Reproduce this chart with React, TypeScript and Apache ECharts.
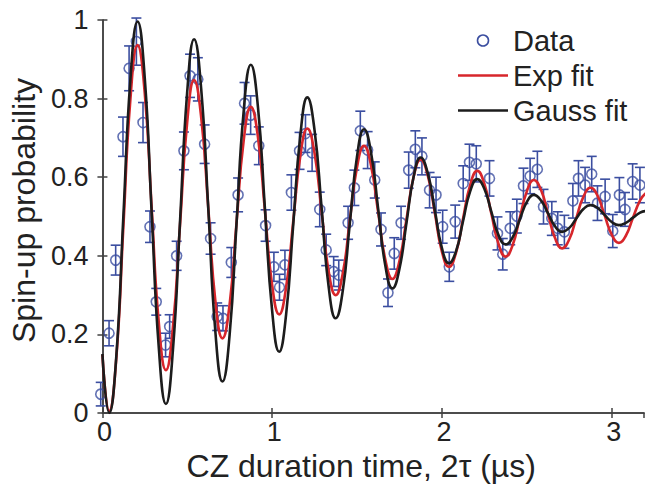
import React, { useEffect, useRef } from "react";
import * as echarts from "echarts";

// Measured data (time in µs, spin-up probability, error bar half-length)
const dataT = [
  -0.01, 0.039, 0.078, 0.121, 0.157, 0.2, 0.239, 0.28, 0.317, 0.372, 0.396, 0.437, 0.48, 0.516, 0.562, 0.602,
  0.637, 0.676, 0.71, 0.759, 0.799, 0.837, 0.873, 0.921, 0.961, 1.01, 1.043, 1.075, 1.113, 1.161, 1.196, 1.235,
  1.28, 1.318, 1.362, 1.392, 1.447, 1.484, 1.519, 1.562, 1.604, 1.641, 1.682, 1.719, 1.759, 1.804, 1.843, 1.882,
  1.927, 1.965, 2.004, 2.043, 2.078, 2.125, 2.162, 2.202, 2.28, 2.327, 2.358, 2.402, 2.441, 2.48, 2.519, 2.562,
  2.598, 2.647, 2.682, 2.721, 2.771, 2.804, 2.843, 2.882, 2.916, 2.961, 3.006, 3.045, 3.078, 3.123, 3.166,
];
const dataY = [
  0.048, 0.203, 0.389, 0.703, 0.877, 0.945, 0.739, 0.474, 0.283, 0.173, 0.22, 0.4, 0.667, 0.858, 0.849, 0.684,
  0.444, 0.245, 0.241, 0.383, 0.555, 0.788, 0.758, 0.68, 0.477, 0.372, 0.32, 0.377, 0.561, 0.667, 0.711, 0.662,
  0.518, 0.415, 0.36, 0.351, 0.484, 0.573, 0.718, 0.669, 0.593, 0.467, 0.306, 0.406, 0.484, 0.618, 0.671, 0.653,
  0.567, 0.555, 0.474, 0.372, 0.487, 0.584, 0.638, 0.634, 0.597, 0.457, 0.404, 0.47, 0.501, 0.578, 0.603, 0.62,
  0.525, 0.495, 0.47, 0.461, 0.54, 0.597, 0.58, 0.608, 0.534, 0.551, 0.463, 0.555, 0.518, 0.589, 0.58,
];
const dataErr = [
  0.03, 0.032, 0.038, 0.05, 0.057, 0.06, 0.051, 0.04, 0.034, 0.03, 0.03, 0.037, 0.048, 0.055, 0.055, 0.049,
  0.04, 0.035, 0.032, 0.038, 0.043, 0.053, 0.049, 0.048, 0.04, 0.037, 0.033, 0.037, 0.045, 0.047, 0.048, 0.047,
  0.044, 0.04, 0.038, 0.038, 0.042, 0.045, 0.05, 0.047, 0.046, 0.042, 0.035, 0.04, 0.042, 0.046, 0.047, 0.047,
  0.045, 0.045, 0.042, 0.037, 0.042, 0.045, 0.046, 0.046, 0.045, 0.042, 0.04, 0.042, 0.043, 0.045, 0.045, 0.046,
  0.044, 0.043, 0.042, 0.042, 0.044, 0.045, 0.045, 0.045, 0.044, 0.044, 0.042, 0.044, 0.043, 0.045, 0.045,
];

// Fit curves
const fitT = [
  0, 0.04,
  0.082, 0.123, 0.165, 0.207, 0.249, 0.29, 0.332, 0.374, 0.415, 0.457, 0.499, 0.54, 0.582, 0.624, 0.665, 0.707,
  0.749, 0.79, 0.832, 0.874, 0.916, 0.957, 0.999, 1.041, 1.082, 1.124, 1.166, 1.207, 1.249, 1.291, 1.332, 1.374,
  1.416, 1.457, 1.499, 1.541, 1.582, 1.624, 1.666, 1.708, 1.749, 1.791, 1.833, 1.874, 1.916, 1.958, 1.999, 2.041,
  2.083, 2.124, 2.166, 2.208, 2.249, 2.291, 2.333, 2.375, 2.416, 2.458, 2.5, 2.541, 2.583, 2.625, 2.666, 2.708,
  2.75, 2.791, 2.833, 2.875, 2.916, 2.958, 3.0, 3.042, 3.083, 3.125, 3.167, 3.2,
];
const expFit = [
  0.148, 0.005,
  0.141, 0.471, 0.8, 0.936, 0.815, 0.523, 0.23, 0.109, 0.217, 0.478, 0.739, 0.847, 0.751, 0.519, 0.286, 0.19,
  0.276, 0.485, 0.693, 0.779, 0.702, 0.515, 0.328, 0.251, 0.32, 0.488, 0.655, 0.724, 0.662, 0.512, 0.362, 0.3,
  0.356, 0.49, 0.624, 0.68, 0.63, 0.511, 0.391, 0.341, 0.386, 0.493, 0.601, 0.645, 0.605, 0.509, 0.412, 0.372,
  0.408, 0.494, 0.58, 0.616, 0.584, 0.507, 0.43, 0.398, 0.427, 0.496, 0.564, 0.593, 0.568, 0.506, 0.445, 0.419,
  0.442, 0.496, 0.55, 0.573, 0.553, 0.503, 0.454, 0.433, 0.451, 0.497, 0.541, 0.559,
];
const gaussFit = [
  0.15, 0.0,
  0.146, 0.498, 0.85, 0.996, 0.854, 0.51, 0.166, 0.023, 0.159, 0.487, 0.815, 0.951, 0.823, 0.516, 0.208, 0.08,
  0.198, 0.483, 0.768, 0.886, 0.779, 0.521, 0.263, 0.156, 0.251, 0.48, 0.708, 0.803, 0.721, 0.522, 0.323, 0.241,
  0.312, 0.482, 0.651, 0.722, 0.663, 0.52, 0.376, 0.317, 0.366, 0.484, 0.601, 0.65, 0.611, 0.516, 0.421, 0.381,
  0.412, 0.488, 0.564, 0.595, 0.571, 0.512, 0.453, 0.429, 0.447, 0.492, 0.537, 0.555, 0.541, 0.508, 0.475, 0.461,
  0.471, 0.495, 0.519, 0.529, 0.522, 0.504, 0.486, 0.478, 0.484, 0.497, 0.51, 0.514,
];

const BLUE = "#3b4ea0";
const RED = "#d7262b";
const BLACK = "#1c1c1c";
const AXIS = "#404040";
const FONT = "'Liberation Sans', Arial, Helvetica, sans-serif";
const LINE_ICON = "path://M0,0L50,0L50,2.6L0,2.6Z";

export default function App() {
  const ref = useRef<HTMLDivElement>(null);
  useEffect(() => {
    document.body.style.margin = "0";
    const chart = echarts.init(ref.current!, null, { renderer: "svg" });
    const axisLine = { show: true, lineStyle: { color: AXIS, width: 1.5 } };
    const tick = { show: true, inside: true, length: 5, lineStyle: { color: AXIS, width: 1.5 } };
    const xBase = { type: "value", min: 0, max: 3.19, interval: 1, splitLine: { show: false }, axisLine, axisTick: tick };
    const yBase = { type: "value", min: 0, max: 1, interval: 0.2, splitLine: { show: false }, axisLine, axisTick: tick };
    chart.setOption({
      animation: false,
      backgroundColor: "#fff",
      grid: { left: 102, right: 1, top: 20, bottom: 78, containLabel: false },
      legend: {
        left: 458,
        top: 26,
        padding: 0,
        orient: "vertical",
        itemWidth: 50,
        itemHeight: 11,
        itemGap: 6,
        selectedMode: false,
        textStyle: { fontSize: 29, color: "#222", fontFamily: FONT },
        data: [
          { name: "Data", icon: "circle", itemStyle: { color: "rgba(0,0,0,0)", borderColor: BLUE, borderWidth: 1.6 } },
          { name: "Exp fit", icon: LINE_ICON, itemStyle: { color: RED } },
          { name: "Gauss fit", icon: LINE_ICON, itemStyle: { color: BLACK } },
        ],
      },
      xAxis: [
        {
          ...xBase,
          position: "bottom",
          axisLabel: { fontSize: 27, color: "#222", fontFamily: FONT, margin: 5, padding: [0, 0, 0, 4] },
          name: "CZ duration time, 2τ (µs)",
          nameLocation: "middle",
          nameGap: 34,
          nameTextStyle: { fontSize: 32, color: "#222", fontFamily: FONT, padding: [0, 24, 0, 0] },
        },
        { ...xBase, position: "top", axisLabel: { show: false } },
      ],
      yAxis: [
        {
          ...yBase,
          position: "left",
          axisLabel: {
            fontSize: 27,
            color: "#222",
            fontFamily: FONT,
            margin: 14,
            padding: [0, 0, 8, 0],
            formatter: (v: number) => (v === 0 ? "0" : v === 1 ? "1" : v.toFixed(1)),
          },
          name: "Spin-up probability",
          nameLocation: "middle",
          nameGap: 60,
          nameTextStyle: { fontSize: 32, color: "#222", fontFamily: FONT, padding: [0, 0, 0, 12] },
        },
        { ...yBase, position: "right", axisLabel: { show: false } },
      ],
      series: [
        {
          name: "Data",
          type: "custom",
          clip: false,
          data: dataT.map((t, i) => [t, dataY[i], dataErr[i]]),
          encode: { x: 0, y: 1 },
          renderItem: (params: any, api: any) => {
            const x = api.value(0);
            const y = api.value(1);
            const e = api.value(2);
            const top = api.coord([x, y + e]);
            const bot = api.coord([x, y - e]);
            const w = 5;
            const style = { stroke: BLUE, lineWidth: 1.6 };
            return {
              type: "group",
              children: [
                { type: "line", shape: { x1: top[0], y1: top[1], x2: bot[0], y2: bot[1] }, style },
                { type: "line", shape: { x1: top[0] - w, y1: top[1], x2: top[0] + w, y2: top[1] }, style },
                { type: "line", shape: { x1: bot[0] - w, y1: bot[1], x2: bot[0] + w, y2: bot[1] }, style },
              ],
            };
          },
          z: 2,
        },
        {
          name: "Data",
          type: "scatter",
          clip: false,
          symbol: "circle",
          symbolSize: 10,
          itemStyle: { color: "rgba(0,0,0,0)", borderColor: BLUE, borderWidth: 1.6 },
          data: dataT.map((t, i) => [t, dataY[i]]),
          z: 3,
        },
        {
          name: "Exp fit",
          type: "line",
          smooth: true,
          symbol: "none",
          lineStyle: { color: RED, width: 2.6 },
          itemStyle: { color: RED },
          data: fitT.map((t, i) => [t, expFit[i]]),
          z: 4,
        },
        {
          name: "Gauss fit",
          type: "line",
          smooth: true,
          symbol: "none",
          lineStyle: { color: BLACK, width: 2.6 },
          itemStyle: { color: BLACK },
          data: fitT.map((t, i) => [t, gaussFit[i]]),
          z: 5,
        },
      ],
    });
    return () => chart.dispose();
  }, []);
  return (
    <div
      ref={ref}
      style={{ position: "absolute", left: 0, top: 0, width: 645, height: 491, background: "#fff" }}
    />
  );
}
